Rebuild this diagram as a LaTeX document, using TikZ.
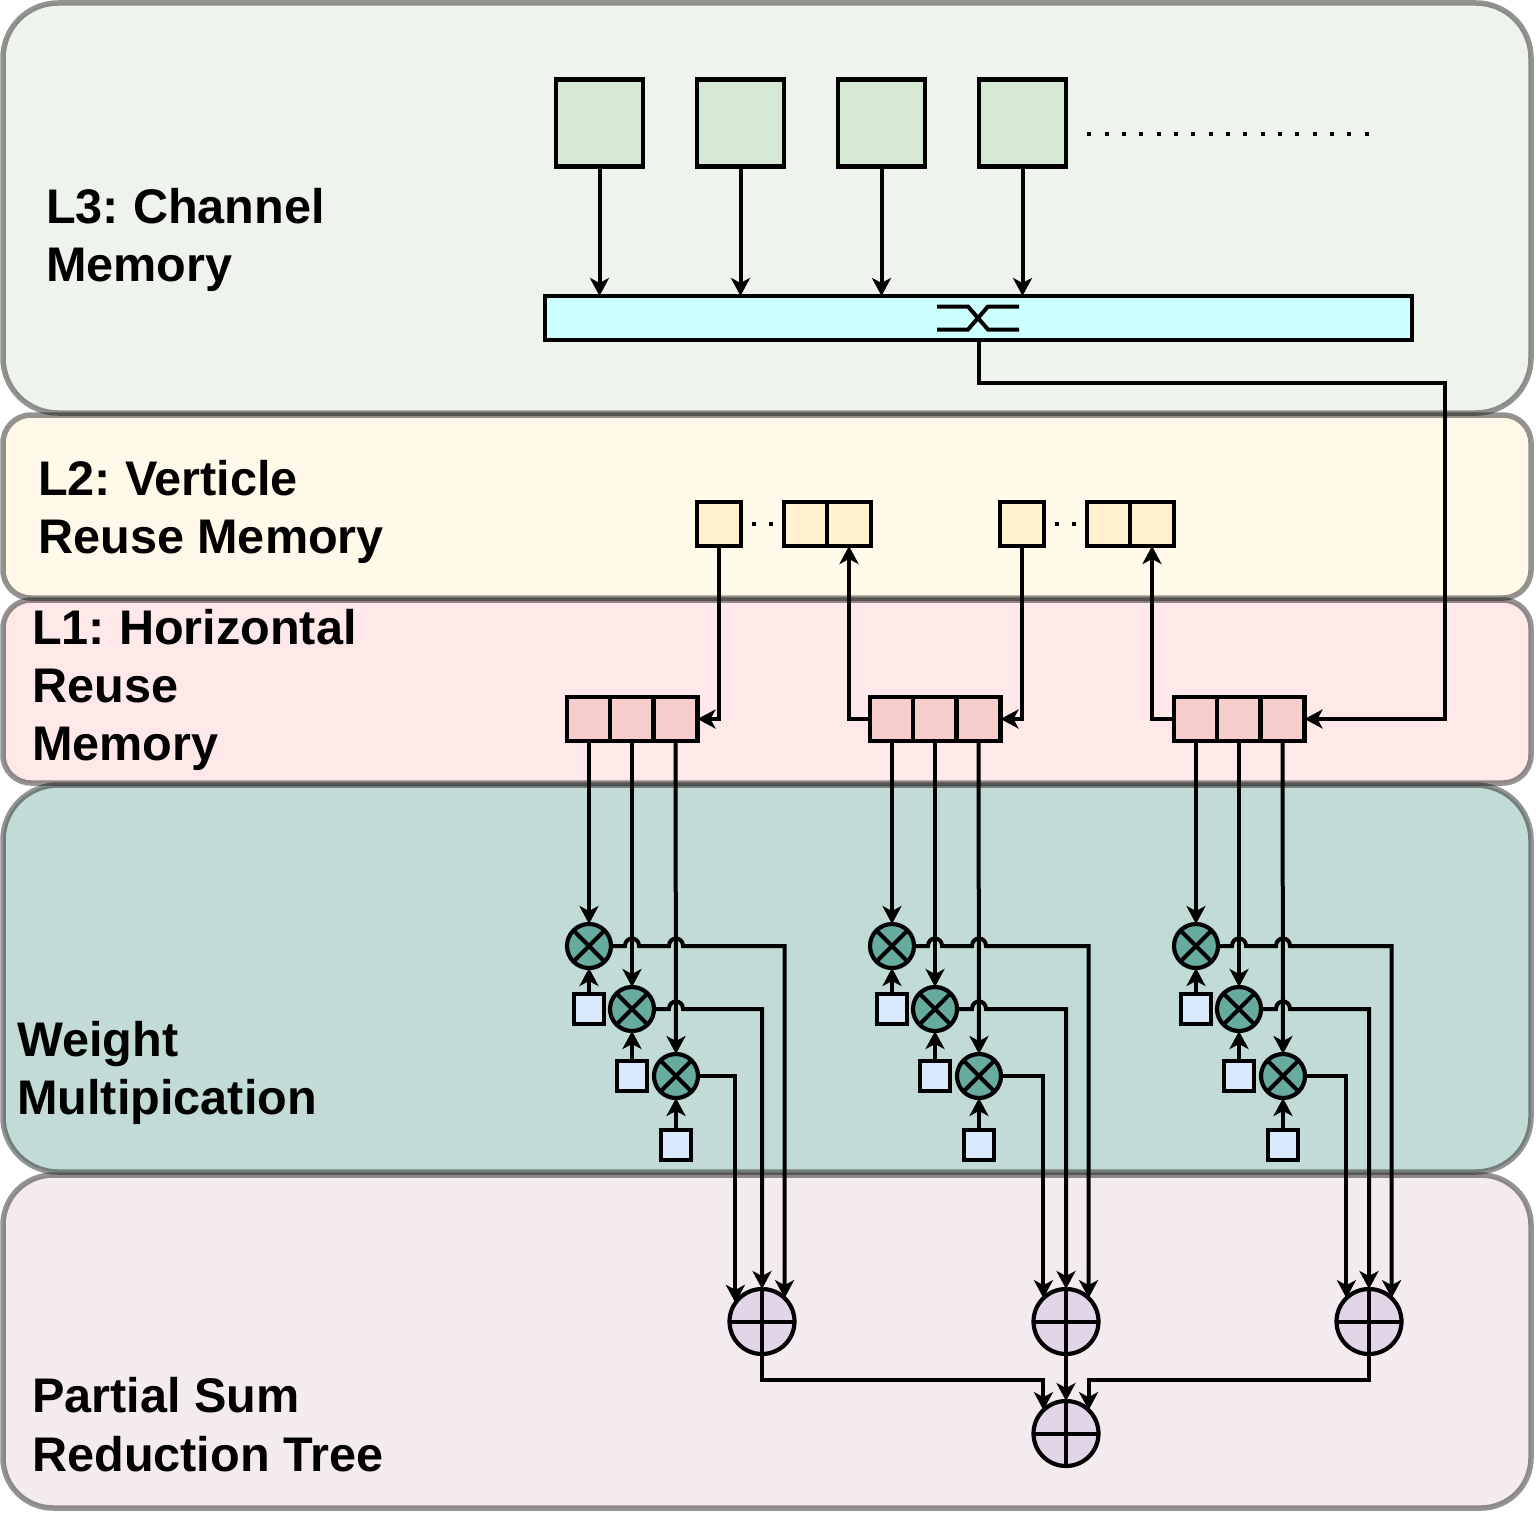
\documentclass[tikz,border=0pt]{standalone}
\usepackage{fontspec}
\setmainfont{Liberation Sans}
\usetikzlibrary{arrows.meta}
\definecolor{chanbg}{HTML}{EEF4EC}
\definecolor{vertbg}{HTML}{FFF9E9}
\definecolor{horbg}{HTML}{FEE8E8}
\definecolor{weightbg}{HTML}{C2DBD6}
\definecolor{sumbg}{HTML}{F4EBF1}
\definecolor{mulfill}{HTML}{67AB9F}
\definecolor{sumfill}{HTML}{E1D5E7}
\definecolor{chanbox}{HTML}{D5E8D4}
\definecolor{barfill}{HTML}{CCFFFF}
\definecolor{vertbox}{HTML}{FFF2CC}
\definecolor{horbox}{HTML}{F8CECC}
\definecolor{weightbox}{HTML}{DAE8FC}
\tikzset{
  panel/.style={draw=black, draw opacity=0.42, line width=5.5pt, rounded corners=#1},
  label/.style={font=\fontsize{48.6}{58.3}\selectfont\bfseries, align=left, anchor=west, inner sep=0pt},
  cell/.style={draw, line width=4.2pt, minimum size=#1, inner sep=0pt, outer sep=0pt},
  wire/.style={line width=4pt, -{Stealth[length=18pt,width=19pt,inset=5pt]}},
  plainwire/.style={line width=4pt},
  mulnode/.style={circle, draw, line width=4.2pt, fill=mulfill, minimum size=44pt, inner sep=0pt, outer sep=0pt,
    path picture={\draw[line width=4pt] (path picture bounding box.north west) -- (path picture bounding box.south east)
      (path picture bounding box.north east) -- (path picture bounding box.south west);}},
  sumnode/.style={circle, draw, line width=4.2pt, fill=sumfill, minimum size=65pt, inner sep=0pt, outer sep=0pt,
    path picture={\draw[line width=4pt] (path picture bounding box.north) -- (path picture bounding box.south)
      (path picture bounding box.east) -- (path picture bounding box.west);}},
}
\def\panels{chanbg/3/413/55pt, vertbg/415/598/28pt, horbg/600/783/28pt, weightbg/785/1172/55pt, sumbg/1175/1508/50pt}
\begin{document}
\begin{tikzpicture}[x=1pt, y=-1pt]
  \useasboundingbox (0,0) rectangle (1536,1520);
  % layers
  \foreach \col/\ya/\yb/\rad in \panels {
    \fill[\col, rounded corners=\rad] (3,\ya) rectangle (1531,\yb);
  }
  \foreach \col/\ya/\yb/\rad in \panels {
    \draw[panel=\rad] (3,\ya) rectangle (1531,\yb);
  }
  \node[label] (l3) at (46,240) {L3:\hspace{-4pt} Channel\\Memory};
  \node[label] (l2) at (38,512) {L2:\hspace{-4pt} Verticle\\Reuse Memory};
  \node[label] (l1) at (32,690) {L1:\hspace{-4pt} Horizontal\\Reuse\\Memory};
  \node[label] (lw) at (17,1073) {Weight\\Multipication};
  \node[label] (ls) at (32,1424.5) {Partial Sum\\Reduction Tree};
  % channel memory and switch
  \node[cell=44pt, fill=barfill, minimum width=867pt] (bar) at (978.5,318) {};
  \foreach \n/\xpos in {1/599.5,2/740.5,3/881.5,4/1022.5} {
    \node[cell=87pt, fill=chanbox] (ch\n) at (\xpos,123) {};
    \draw[wire] (ch\n.south) -- (ch\n.south |- bar.north);
  }
  \coordinate (dotsA) at (1087.3,133.7);
  \coordinate (dotsB) at (1368.7,133.7);
  \draw[line width=4pt, dash pattern=on 4pt off 13.33pt] (dotsA) -- (dotsB);
  \draw[plainwire] (937,306.5) -- (968,306.5) -- (988,329.5) -- (1019,329.5)
    (937,329.5) -- (968,329.5) -- (988,306.5) -- (1019,306.5);
  % three columns
  \foreach \i/\dx/\sx/\ang in {1/0/762/145,2/303/1066/134,3/607/1369/134} {
    \node[sumnode] (s\i) at (\sx,1321.5) {};
    \begin{scope}[xshift=\dx pt]
      \node[cell=44pt, fill=horbox] (ha\i) at (589,719) {};
      \node[cell=44pt, fill=horbox] (hb\i) at (632,719) {};
      \node[cell=44pt, fill=horbox] (hc\i) at (675.5,719) {};
      \node[mulnode] (ma\i) at (589,946) {};
      \node[mulnode] (mb\i) at (632,1009) {};
      \node[mulnode] (mc\i) at (676,1076) {};
      \node[cell=30pt, fill=weightbox] (wa\i) at (589,1009) {};
      \node[cell=30pt, fill=weightbox] (wb\i) at (632,1076) {};
      \node[cell=30pt, fill=weightbox] (wc\i) at (676,1145) {};
      \draw[wire] (ha\i.south) -- (ma\i.north);
      \draw[wire] (hb\i.south) -- (mb\i.north);
      \draw[wire] (hc\i.south) -- (mc\i.north);
      \draw[wire] (wa\i.north) -- (ma\i.south);
      \draw[wire] (wb\i.north) -- (mb\i.south);
      \draw[wire] (wc\i.north) -- (mc\i.south);
      \draw[wire] (ma\i.east) -- (625,946) .. controls +(0,-10) and +(0,-10) .. (639,946)
        -- (669,946) .. controls +(0,-10) and +(0,-10) .. (683,946) -| (s\i.46);
      \draw[wire] (mb\i.east) -- (669,1009) .. controls +(0,-10) and +(0,-10) .. (683,1009) -| (s\i.north);
      \draw[wire] (mc\i.east) -| (s\i.\ang);
    \end{scope}
  }
  % vertical reuse memory
  \node[cell=44pt, fill=vertbox] (va1) at (719,524) {};
  \node[cell=44pt, fill=vertbox] (vb1) at (806,524) {};
  \node[cell=44pt, fill=vertbox] (vc1) at (849,524) {};
  \node[cell=44pt, fill=vertbox] (va2) at (1022,524) {};
  \node[cell=44pt, fill=vertbox] (vb2) at (1109,524) {};
  \node[cell=44pt, fill=vertbox] (vc2) at (1152,524) {};
  \foreach \xpos in {753.5,771,1056.5,1074} {
    \node[fill, minimum size=4pt, inner sep=0pt] (dot\xpos) at (\xpos,523.5) {};
  }
  % links between the levels
  \coordinate (busA) at (979,383);
  \draw[wire] (bar.south -| busA) -- (busA) -- (busA -| 1445,0) |- (hc3.east);
  \draw[wire] (va1.south) |- (hc1.east);
  \draw[wire] (va2.south) |- (hc2.east);
  \draw[wire] (ha2.west) -| (vc1.south);
  \draw[wire] (ha3.west) -| (vc2.south);
  % reduction tree
  \node[sumnode] (root) at (1066,1433.5) {};
  \coordinate (treeL) at (763,1380);
  \coordinate (treeR) at (1369,1380);
  \draw[wire] (s1.south) |- (treeL) -- (treeL -| root.134) -- (root.134);
  \draw[wire] (s3.south) |- (treeR) -- (treeR -| root.46) -- (root.46);
  \draw[wire] (s2.south) -- (root.north);
\end{tikzpicture}
\end{document}
